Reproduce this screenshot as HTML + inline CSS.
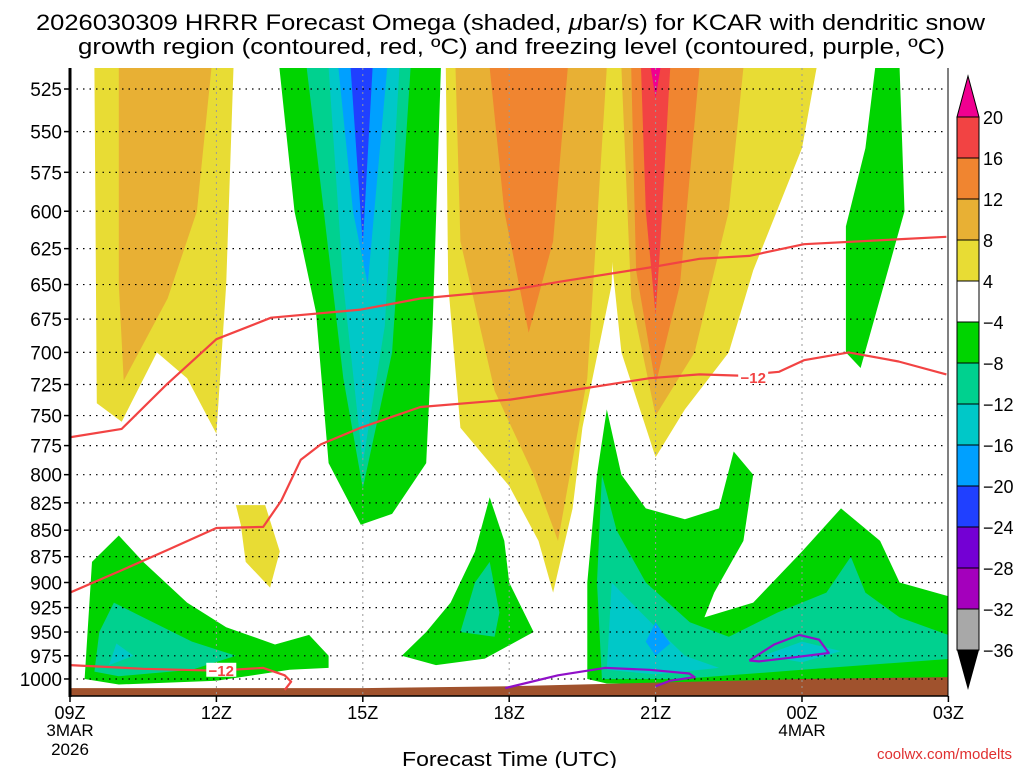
<!DOCTYPE html>
<html><head><meta charset="utf-8">
<style>
html,body{margin:0;padding:0;background:#fff;}
body{width:1024px;height:768px;overflow:hidden;font-family:"Liberation Sans","DejaVu Sans",sans-serif;}
svg text{font-family:"Liberation Sans","DejaVu Sans",sans-serif;}
</style></head>
<body>
<svg id="chart" width="1024" height="768" viewBox="0 0 1024 768" xmlns="http://www.w3.org/2000/svg">
<text x="36" y="30" font-size="22" textLength="949" lengthAdjust="spacingAndGlyphs">2026030309 HRRR Forecast Omega (shaded, <tspan font-style="italic">μ</tspan>bar/s) for KCAR with dendritic snow</text>
<text x="78" y="54" font-size="22" textLength="867" lengthAdjust="spacingAndGlyphs">growth region (contoured, red, ºC) and freezing level (contoured, purple, ºC)</text>
<defs><clipPath id="plotclip"><rect x="70" y="68" width="878" height="628"/></clipPath></defs>
<g id="fills" clip-path="url(#plotclip)"></g>
<g id="grid"></g>
<g id="lines" clip-path="url(#plotclip)"></g>
<g id="axes"></g>
<g id="cbar"></g>
<text x="402" y="766" font-size="20" textLength="215" lengthAdjust="spacingAndGlyphs">Forecast Time (UTC)</text>
<text x="1012" y="759" font-size="15" fill="#e03030" text-anchor="end">coolwx.com/modelts</text>
</svg>
<script>
// ---- data ----
const pressureTicks = [525,550,575,600,625,650,675,700,725,750,775,800,825,850,875,900,925,950,975,1000];
const timeTickHours = [0,3,6,9,12,15,18];
const timeTickLabels = ["09Z","12Z","15Z","18Z","21Z","00Z","03Z"];
const cbarLevels = ["20","16","12","8","4","−4","−8","−12","−16","−20","−24","−28","−32","−36"];
const cbarColors = ["#f24343","#f08530","#e8b034","#e8dc34","#ffffff","#00d400","#00d18f","#00c8c8","#00a0ff","#2040ff","#7400d4","#a400bc","#a8a8a8"];
// shaded regions: [color, [[hour, hPa], ...]]
const regions = [
 ["#e8dc34", [[0.5,513],[3.35,513],[3.2,650],[3.0,765],[2.4,720],[1.78,700],[1.06,755],[0.55,740]]],
 ["#e8b034", [[1.0,513],[2.9,513],[2.6,600],[2.0,660],[1.1,722],[1.0,650]]],
 ["#e8dc34", [[3.4,827],[4.0,827],[4.3,870],[4.1,905],[3.6,880],[3.5,845]]],
 ["#00d400", [[4.29,513],[7.6,513],[7.43,680],[7.3,790],[6.6,835],[5.96,845],[5.3,790],[5.04,670],[4.6,600]]],
 ["#00d18f", [[4.85,513],[6.98,513],[6.6,700],[6.0,812],[5.6,720],[5.2,600]]],
 ["#00c8c8", [[5.3,513],[6.75,513],[6.45,680],[6.0,790],[5.6,650]]],
 ["#00a0ff", [[5.5,513],[6.5,513],[6.1,650],[5.8,600]]],
 ["#2040ff", [[5.75,513],[6.2,513],[6.0,622]]],
 ["#e8dc34", [[7.7,513],[11.2,513],[11.1,650],[10.5,760],[10.3,830],[9.9,910],[9.6,860],[9.0,810],[8.0,760],[7.75,650]]],
 ["#e8b034", [[7.9,513],[11.0,513],[10.6,720],[10.0,860],[9.5,800],[8.7,730],[8.0,620]]],
 ["#f08530", [[8.6,513],[10.2,513],[9.9,620],[9.4,685],[8.9,600]]],
 ["#e8dc34", [[11.0,513],[15.3,513],[15.0,560],[14.0,640],[13.5,700],[12.6,745],[12.0,785],[11.3,700],[11.0,600]]],
 ["#e8b034", [[11.3,513],[13.8,513],[13.5,600],[12.8,700],[12.0,750],[11.5,660]]],
 ["#f08530", [[11.5,513],[12.9,513],[12.5,650],[12.0,725],[11.6,640]]],
 ["#f24343", [[11.7,513],[12.3,513],[12.1,620],[12.0,672],[11.8,600]]],
 ["#f00090", [[11.9,513],[12.1,513],[12.0,530]]],
 ["#00d400", [[16.5,513],[17.0,513],[17.1,600],[16.6,660],[16.2,712],[15.9,700],[15.9,610],[16.3,560]]],
 ["#00d400", [[0.3,1000],[0.45,880],[1.0,855],[1.5,880],[2.4,920],[3.2,945],[4.2,963],[4.9,953],[5.3,975],[5.3,988],[4.5,990],[3.0,1002],[1.0,1006]]],
 ["#00d18f", [[0.5,992],[0.6,950],[0.9,920],[1.5,935],[2.5,960],[3.4,975],[2.5,990],[1.0,997]]],
 ["#00c8c8", [[0.8,985],[0.95,962],[1.3,975]]],
 ["#00d400", [[6.8,975],[7.3,950],[7.8,920],[8.3,870],[8.6,820],[8.9,860],[9.0,900],[9.5,950],[8.5,978],[7.5,985]]],
 ["#00d18f", [[8.0,950],[8.3,900],[8.6,880],[8.8,930],[8.7,955]]],
 ["#00d400", [[10.6,1000],[10.6,900],[10.8,800],[11.0,745],[11.3,800],[11.8,830],[12.6,840],[13.3,830],[13.6,780],[14.0,800],[13.8,860],[13.2,910],[13.0,935],[14.0,920],[15.0,870],[15.8,830],[16.6,860],[17.0,900],[18.1,915],[18.1,1005],[14,1005],[11,1005]]],
 ["#00d18f", [[10.9,1000],[10.8,900],[10.9,800],[11.2,850],[11.8,900],[12.7,940],[13.5,955],[14.5,930],[15.5,910],[16.0,875],[16.3,910],[17,935],[18.1,955],[18.1,978],[15.0,990],[12.5,1000]]],
 ["#00c8c8", [[11.0,990],[11.1,900],[11.6,925],[12.1,950],[12.6,975],[13.3,988],[12.0,995]]],
 ["#00c8c8", [[14.2,975],[15.0,960],[15.8,970],[15.0,982]]],
 ["#00a0ff", [[11.8,960],[12.0,940],[12.3,962],[12.0,975]]]
];
// contour lines
const dgzUpper = [[0,768],[1.06,761],[1.98,725],[3.0,690],[4.12,674],[5.96,668],[7.18,660],[9.02,654],[10.04,648],[11.88,638],[12.9,632],[13.92,630],[15.04,622],[17.96,617]];
const dgzLower = [[0,910],[1.06,888],[1.98,869],[3.0,848],[3.96,847],[4.33,823],[4.73,787],[5.14,774],[5.96,760],[7.18,743],[9.02,737],[10.04,731],[11.88,720],[12.9,717],[13.7,718],[14.53,715],[15.04,706],[15.96,700],[16.98,707],[17.96,717]];
const dgzBottom = [[0,985],[1.5,989],[3.0,991],[3.96,988],[4.4,996],[4.53,1003],[4.4,1012]];
const frzLine = [[8.92,1010],[10.0,996],[10.96,988],[11.88,990],[12.69,994],[12.8,998],[12.29,1002],[12.0,1008]];
const frzLoop = [[13.92,980],[14.43,963],[14.94,953],[15.35,958],[15.55,972],[14.94,976],[14.12,981],[13.92,980]];
const groundTop = [[0,1010],[6,1010],[9,1008],[12,1004],[15,1000],[18,998]];

// ---- axes ----
const NS="http://www.w3.org/2000/svg";
const X0=70, PXH=48.8, Y525=89, PXL=915.6;
const xs = h => X0 + h*PXH;
const ys = p => Y525 + Math.log(p/525)*PXL;
function el(tag, attrs, parent){const e=document.createElementNS(NS,tag);for(const k in attrs)e.setAttribute(k,attrs[k]);parent.appendChild(e);return e;}
const pts = arr => arr.map(a=>xs(a[0]).toFixed(1)+","+ys(a[1]).toFixed(1)).join(" ");

const gF=document.getElementById('fills');
regions.forEach((r,i)=>{
  const e=el('polygon',{points:pts(r[1]),fill:r[0]},gF);
  
  
});
const gp=groundTop.concat([[18,1030],[0,1030]]);
const ground=el('polygon',{points:pts(gp),fill:'#a0522d'},gF);



const gG=document.getElementById('grid');
pressureTicks.forEach(p=>{
  const l=el('line',{x1:X0,x2:948,y1:ys(p),y2:ys(p),stroke:'#000','stroke-width':1.2,'stroke-dasharray':'1.5,5'},gG);
  
  
});
timeTickHours.slice(1,6).forEach(h=>{
  const l=el('line',{x1:xs(h),x2:xs(h),y1:68,y2:696,stroke:'#999','stroke-width':1,'stroke-dasharray':'2,4'},gG);
  
  
});

const gL=document.getElementById('lines');
function pl(arr,color,name,w){const e=el('polyline',{points:pts(arr),fill:'none',stroke:color,'stroke-width':w||2.2,'stroke-linejoin':'round'},gL);
  
  }
pl(dgzUpper,'#f24343','dgz-upper-line');
pl(dgzLower,'#f24343','dgz-lower-line');
pl(dgzBottom,'#f24343','dgz-bottom-line');
pl(frzLine,'#9010c8','freezing-line');
pl(frzLoop,'#9010c8','freezing-loop');
function lab(h,p,txt,name){
  el('rect',{x:xs(h)-15,y:ys(p)-7,width:30,height:14,fill:'#fff'},gL);
  const t=el('text',{x:xs(h),y:ys(p)+6,'font-size':15,'font-weight':'bold',fill:'#f24343','text-anchor':'middle'},gL);
  t.textContent=txt;
  
  
}
lab(14.0,719,'−12','dgz-label-12');
lab(3.1,990,'−12','dgz-label-12-bottom');

const gA=document.getElementById('axes');
el('line',{x1:X0,x2:X0,y1:68,y2:697,stroke:'#000','stroke-width':3},gA);
el('line',{x1:948,x2:948,y1:68,y2:697,stroke:'#000','stroke-width':1},gA);
el('line',{x1:X0,x2:948,y1:696,y2:696,stroke:'#000','stroke-width':1.5},gA);
pressureTicks.forEach(p=>{
  el('line',{x1:X0-6,x2:X0,y1:ys(p),y2:ys(p),stroke:'#000','stroke-width':1.5},gA);
  const t=el('text',{x:X0-8,y:ys(p)+7,'font-size':19,'text-anchor':'end'},gA);
  t.textContent=p;
  
  
});
timeTickHours.forEach((h,i)=>{
  el('line',{x1:xs(h),x2:xs(h),y1:696,y2:702,stroke:'#000','stroke-width':1.5},gA);
  const t=el('text',{x:xs(h),y:719,'font-size':18,'text-anchor':'middle'},gA);
  t.textContent=timeTickLabels[i];
  
  
});
[["3MAR",0,736],["2026",0,755],["4MAR",15,736]].forEach(a=>{
  const t=el('text',{x:xs(a[1]),y:a[2],'font-size':17,'text-anchor':'middle'},gA);
  t.textContent=a[0];
  
  
});

// ---- colorbar ----
const gC=document.getElementById('cbar');
const CX=957, CW=22, CTOP=117, CH=41;
el('polygon',{points:`${CX},${CTOP} ${CX+CW},${CTOP} ${CX+CW/2},76`,fill:'#f00090',stroke:'#000','stroke-width':1},gC);
cbarColors.forEach((c,i)=>{
  const r=el('rect',{x:CX,y:CTOP+i*CH,width:CW,height:CH,fill:c,stroke:'#000','stroke-width':1},gC);
  
  
});
const cb=CTOP+cbarColors.length*CH;
el('polygon',{points:`${CX},${cb} ${CX+CW},${cb} ${CX+CW/2},690`,fill:'#000'},gC);
cbarLevels.forEach((s,i)=>{
  const t=el('text',{x:CX+CW+4,y:CTOP+i*CH+7,'font-size':18},gC);
  t.textContent=s;
  
  
});
</script>
</body></html>
